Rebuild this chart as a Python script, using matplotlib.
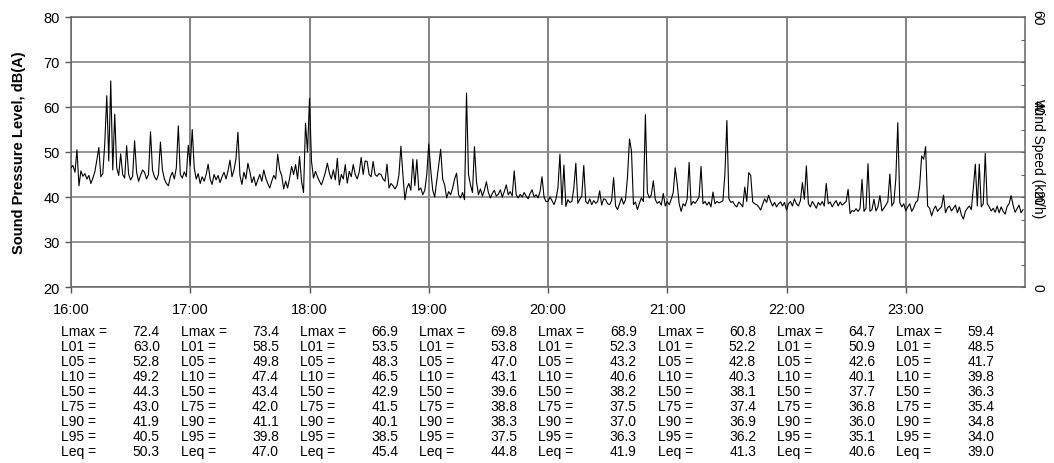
import matplotlib
matplotlib.use("Agg")
from matplotlib import pyplot as plt
from matplotlib.ticker import MultipleLocator
import matplotlib.transforms as mtransforms
import numpy as np

plt.rcParams["font.family"] = ["Liberation Sans", "DejaVu Sans"]
plt.rcParams["font.size"] = 10

# one-minute sound pressure levels, dB(A), one list per hour
spl_16 = [46.5, 47.0, 45.5, 50.5, 42.5, 45.8, 44.6, 45.2, 44.0, 44.8,
          43.0, 44.2, 45.6, 48.2, 51.0, 44.5, 45.2, 52.0, 62.5, 48.0,
          65.8, 46.0, 58.4, 46.5, 44.8, 49.6, 45.0, 44.2, 51.4, 45.0,
          43.8, 44.6, 52.5, 45.5, 43.5, 44.8, 46.0, 45.5, 44.0, 45.0,
          54.5, 46.0, 44.5, 43.8, 45.0, 52.2, 46.0, 44.0, 43.0, 42.5,
          44.5, 45.5, 44.0, 46.5, 55.8, 45.0, 44.2, 45.6, 44.5, 51.5]
spl_17 = [47.0, 55.0, 46.5, 44.0, 45.2, 43.0, 44.5, 43.5, 45.0, 47.3,
          44.0, 42.8, 45.0, 43.8, 44.8, 43.2, 44.5, 45.5, 44.0, 45.8,
          48.2, 44.5, 46.0, 48.5, 54.4, 44.8, 42.8, 45.5, 44.0, 47.5,
          45.6, 43.2, 44.5, 42.5, 43.8, 45.0, 43.5, 46.0, 44.2, 43.0,
          42.0, 43.5, 44.8, 44.0, 49.5, 46.0, 44.8, 41.8, 43.5, 42.0,
          44.2, 46.8, 45.0, 47.2, 44.0, 49.0, 43.5, 41.0, 56.4, 50.0]
spl_18 = [61.9, 48.0, 44.2, 45.7, 44.5, 43.5, 42.7, 44.0, 45.5, 47.5,
          45.3, 44.0, 46.0, 43.8, 48.6, 42.7, 45.0, 44.0, 47.2, 43.1,
          45.7, 44.5, 47.2, 45.0, 44.0, 45.5, 48.8, 45.0, 48.0, 47.9,
          45.0, 44.5, 47.9, 45.0, 44.6, 45.2, 45.0, 44.0, 43.5, 47.3,
          42.0, 43.0, 42.5, 41.8, 42.5, 44.9, 51.3, 44.9, 39.4, 42.0,
          43.0, 41.5, 48.4, 42.5, 48.3, 41.5, 42.0, 40.5, 41.5, 45.0]
spl_19 = [51.8, 46.0, 41.5, 40.0, 43.5, 47.0, 50.6, 44.0, 42.7, 39.8,
          41.2, 40.5, 42.0, 44.0, 45.3, 40.5, 39.8, 41.0, 39.4, 63.1,
          45.0, 42.7, 41.0, 51.2, 43.5, 40.5, 41.8, 40.2, 41.5, 43.4,
          41.0, 39.8, 40.8, 41.5, 40.2, 40.6, 41.6, 40.0, 41.2, 42.7,
          40.5, 41.2, 40.2, 45.8, 40.5, 39.8, 40.6, 40.0, 41.0, 40.2,
          39.6, 40.8, 41.6, 40.0, 40.5, 39.8, 41.2, 44.5, 40.0, 39.0]
spl_20 = [39.0, 40.0, 39.2, 38.3, 39.5, 42.0, 49.5, 38.3, 47.1, 37.9,
          39.4, 38.8, 39.0, 42.0, 47.5, 38.6, 39.5, 40.2, 47.0, 39.0,
          38.5, 39.6, 38.3, 39.2, 38.6, 39.0, 41.4, 38.2, 39.6, 39.4,
          38.5, 38.3, 39.2, 44.3, 38.0, 37.2, 38.5, 39.8, 38.4, 39.4,
          44.5, 52.9, 50.2, 38.3, 38.9, 37.2, 38.6, 39.8, 39.0, 58.3,
          41.0, 39.8, 40.5, 43.6, 39.4, 38.6, 39.0, 38.2, 40.8, 38.0]
spl_21 = [39.0, 38.3, 39.5, 41.0, 46.5, 43.0, 38.5, 36.8, 38.5, 38.0,
          39.5, 47.7, 38.2, 39.0, 38.6, 39.2, 40.0, 46.8, 38.5, 39.0,
          38.2, 38.9, 37.8, 41.1, 38.5, 39.0, 38.7, 38.9, 39.2, 45.0,
          57.0, 39.6, 38.8, 39.0, 38.2, 37.8, 38.9, 38.4, 37.8, 42.2,
          39.0, 45.4, 44.8, 38.9, 38.5, 38.3, 37.8, 37.1, 38.4, 39.6,
          38.8, 40.4, 39.0, 38.0, 38.8, 37.8, 38.5, 38.9, 38.0, 38.8]
spl_22 = [37.1, 38.5, 39.0, 38.0, 39.6, 38.5, 38.0, 39.2, 43.2, 39.5,
          46.9, 38.5, 37.8, 39.0, 38.3, 37.5, 38.8, 38.2, 39.0, 38.0,
          43.0, 38.5, 38.9, 37.8, 38.6, 39.2, 38.0, 38.9, 38.2, 38.6,
          39.0, 41.7, 36.3, 37.0, 36.8, 37.4, 36.8, 37.5, 43.9, 36.8,
          37.5, 47.4, 36.8, 37.2, 39.5, 36.9, 37.8, 40.3, 36.9, 37.5,
          38.2, 39.0, 45.1, 38.0, 38.8, 44.0, 56.5, 38.8, 37.8, 38.5]
spl_23 = [36.9, 37.8, 38.5, 36.8, 37.6, 38.8, 39.2, 42.5, 49.1, 48.4,
          51.2, 38.0, 37.5, 35.8, 37.2, 38.0, 36.8, 37.4, 37.8, 40.4,
          36.5, 37.6, 38.0, 36.9, 37.5, 38.2, 36.5, 37.8, 36.0, 35.1,
          36.8, 37.5, 38.0, 37.2, 42.0, 47.3, 38.0, 47.3, 37.8, 38.5,
          49.7, 38.5, 37.8, 36.9, 37.5, 36.6, 38.0, 36.5, 37.8, 36.8,
          36.2, 37.9, 38.5, 40.3, 38.2, 36.6, 37.4, 38.2, 36.5, 37.2]

hours = [16, 17, 18, 19, 20, 21, 22, 23]
hour_labels = ["16:00", "17:00", "18:00", "19:00", "20:00", "21:00", "22:00", "23:00"]

# hourly statistics table
stat_names = ["Lmax =", "L01 =", "L05 =", "L10 =", "L50 =", "L75 =", "L90 =", "L95 =", "Leq ="]
lmax = [72.4, 73.4, 66.9, 69.8, 68.9, 60.8, 64.7, 59.4]
l01 = [63.0, 58.5, 53.5, 53.8, 52.3, 52.2, 50.9, 48.5]
l05 = [52.8, 49.8, 48.3, 47.0, 43.2, 42.8, 42.6, 41.7]
l10 = [49.2, 47.4, 46.5, 43.1, 40.6, 40.3, 40.1, 39.8]
l50 = [44.3, 43.4, 42.9, 39.6, 38.2, 38.1, 37.7, 36.3]
l75 = [43.0, 42.0, 41.5, 38.8, 37.5, 37.4, 36.8, 35.4]
l90 = [41.9, 41.1, 40.1, 38.3, 37.0, 36.9, 36.0, 34.8]
l95 = [40.5, 39.8, 38.5, 37.5, 36.3, 36.2, 35.1, 34.0]
leq = [50.3, 47.0, 45.4, 44.8, 41.9, 41.3, 40.6, 39.0]
stats = [lmax, l01, l05, l10, l50, l75, l90, l95, leq]

spl = spl_16 + spl_17 + spl_18 + spl_19 + spl_20 + spl_21 + spl_22 + spl_23
t = 16 + np.arange(len(spl)) / 60.0

fig = plt.figure(figsize=(10.54, 4.64), dpi=100)
ax = fig.add_axes([71 / 1054, 1 - 288 / 464, 954 / 1054, 270 / 464])

ax.plot(t, spl, color="black", linewidth=0.8, zorder=3)

ax.set_xlim(16, 24)
ax.set_ylim(20, 80)
ax.set_xticks(hours)
ax.set_xticklabels(hour_labels)
ax.set_yticks([20, 30, 40, 50, 60, 70, 80])
ax.yaxis.grid(True, color="#8c8c8c", linewidth=1.3)
ax.xaxis.grid(True, color="#606060", linewidth=1.1)
ax.tick_params(axis="x", length=4, width=1, color="#555555", pad=7, labelsize=10.5)
ax.tick_params(axis="y", length=4, width=1, color="#555555", pad=4, labelsize=10.5)
for s in ax.spines.values():
    s.set_color("#666666")
    s.set_linewidth(1.1)

ax.set_ylabel("Sound Pressure Level, dB(A)", fontweight="bold", fontsize=10.5)
ax.yaxis.set_label_coords(-0.047, 0.5)

# wind speed axis on the right
ax2 = ax.twinx()
ax2.set_ylim(0, 60)
ax2.yaxis.set_major_locator(MultipleLocator(20))
ax2.yaxis.set_minor_locator(MultipleLocator(5))
ax2.tick_params(axis="y", which="both", direction="in", length=3, width=0.8,
                color="#666666", pad=4, labelsize=10)
plt.setp(ax2.get_yticklabels(), rotation=-90, va="center", ha="left")
ax2.set_ylabel("Wind Speed (km/h)", rotation=-90, fontsize=10)
ax2.yaxis.set_label_coords(1.021, 0.48)
for s in ax2.spines.values():
    s.set_visible(False)

# table of hourly statistics under the chart
trans = mtransforms.blended_transform_factory(ax.transData, fig.transFigure)
for i, name in enumerate(stat_names):
    y = 1 - (331.5 + 15.1 * i) / 464
    for j, h in enumerate(hours):
        ax.text(h - 0.08, y, name, transform=trans, ha="left", va="center",
                fontsize=10, clip_on=False)
        ax.text(h + 0.745, y, "{:.1f}".format(stats[i][j]), transform=trans,
                ha="right", va="center", fontsize=10, clip_on=False)

plt.savefig("out.png", dpi=100)
